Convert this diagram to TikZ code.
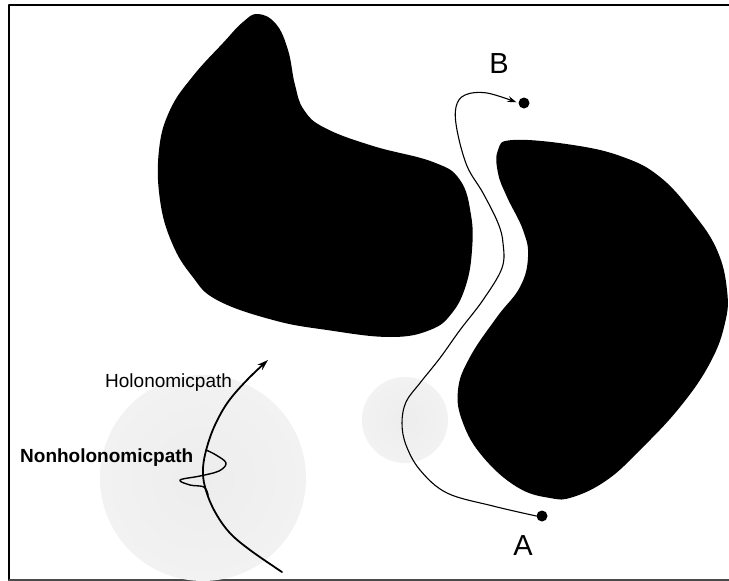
\documentclass[tikz,border=0pt]{standalone}
\usepackage{fontspec}
\setmainfont{Liberation Sans}
\usepackage{xcolor}
\usetikzlibrary{arrows.meta,positioning}
\definecolor{obstacleblack}{HTML}{000000}
\definecolor{stipplecore}{HTML}{EDEDED}
\definecolor{stippleedge}{HTML}{F3F3F3}
\definecolor{framegray}{HTML}{4A4A4A}
\pgfdeclareradialshading{stipplefade}{\pgfpoint{0bp}{0bp}}{color(0bp)=(stipplecore); color(30bp)=(stippleedge); color(50bp)=(white)}
\tikzset{
every picture/.style={line cap=round,line join=round},
obstacle/.style={fill=obstacleblack, draw=none},
stipple/.style={shading=stipplefade, draw=none},
frame line/.style={draw=black, line width=2pt},
route/.style={
  draw=black,
  line width=1.1pt,
  -{Stealth[length=9pt,width=6pt]},
  shorten >=2pt
},
holo path/.style={
  draw=black,
  line width=1.8pt,
  -{Stealth[length=11pt,width=7pt]}
},
nonholo path/.style={draw=black, line width=1.4pt},
waypoint/.style={circle, fill=black, inner sep=0pt, minimum size=11pt},
point label/.style={font=\fontsize{29}{32}\selectfont, inner sep=0pt},
path label/.style={font=\fontsize{19}{22}\selectfont, inner sep=0pt},
path label bold/.style={font=\fontsize{19}{22}\selectfont\bfseries, inner sep=0pt}
}
\begin{document}
\begin{tikzpicture}[x=1pt,y=-1pt]
\useasboundingbox (0,0) rectangle (729,581);
% frame
\draw[frame line] (729,5) -- (9,5) -- (9,580);
\draw[draw=framegray, line width=1.5pt] (9,580) -- (729,580);
% stippled regions
\shade[stipple] (405,420) circle[radius=43];
\shade[stipple] (203,478) circle[radius=103];
% obstacles
\fill[obstacle] plot[smooth cycle, tension=0.7] coordinates {
  (258,14) (276,24) (288,50) (295,85) (304,110) (325,128) (373,146) (433,162)
  (460,180) (471,215) (472,250) (466,285) (452,313) (430,330) (390,337) (327,330)
  (273,320) (217,300) (192,276) (172,243) (160,200) (159,150) (170,110) (193,76)
  (223,43) (243,22)};
\fill[obstacle] plot[smooth cycle, tension=0.7] coordinates {
  (513,140) (573,145) (623,157) (660,177) (693,213) (717,250) (727,290) (725,323)
  (710,363) (680,407) (640,450) (607,480) (573,497) (550,498) (517,487) (483,457)
  (463,423) (458,390) (470,357) (497,317) (520,287) (528,257) (523,230) (507,197)
  (498,173) (498,150)};
% start and goal
\node[waypoint] (ptA) at (542,516) {};
\node[waypoint] (ptB) at (524,103) {};
\node[point label, anchor=base] (labelA) at (523,555) {A};
\node[point label, anchor=base] (labelB) at (499,73) {B};
% path between the obstacles
\draw[route] plot[smooth, tension=0.6] coordinates {
  (ptA.west) (493,506) (447,493) (420,470) (406,445) (402,423) (406,402) (420,383)
  (440,358) (460,330) (483,300) (502,268) (503,243) (498,223) (483,193) (467,166)
  (457,130) (456,107) (465,95) (487,93) (ptB.west)};
% holonomic vs nonholonomic
\coordinate (holostart) at (282,572);
\coordinate (holoend) at (268,360);
\draw[holo path] plot[smooth, tension=0.6] coordinates {
  (holostart) (250,550) (229,532) (214,510) (205,487) (203,468) (207,447)
  (215,425) (228,402) (247,380) (holoend)};
\draw[nonholo path] plot[smooth, tension=0.6] coordinates {
  (206,450) (216,455) (226,463) (219,471) (200,476) (180,480) (190,485)
  (204,487) (208,495)};
\node[path label, anchor=base west] (hololabel) at (105,387) {Holonomicpath};
\node[path label bold, anchor=base west] (nonhololabel) at (20,462) {Nonholonomicpath};
\end{tikzpicture}
\end{document}
